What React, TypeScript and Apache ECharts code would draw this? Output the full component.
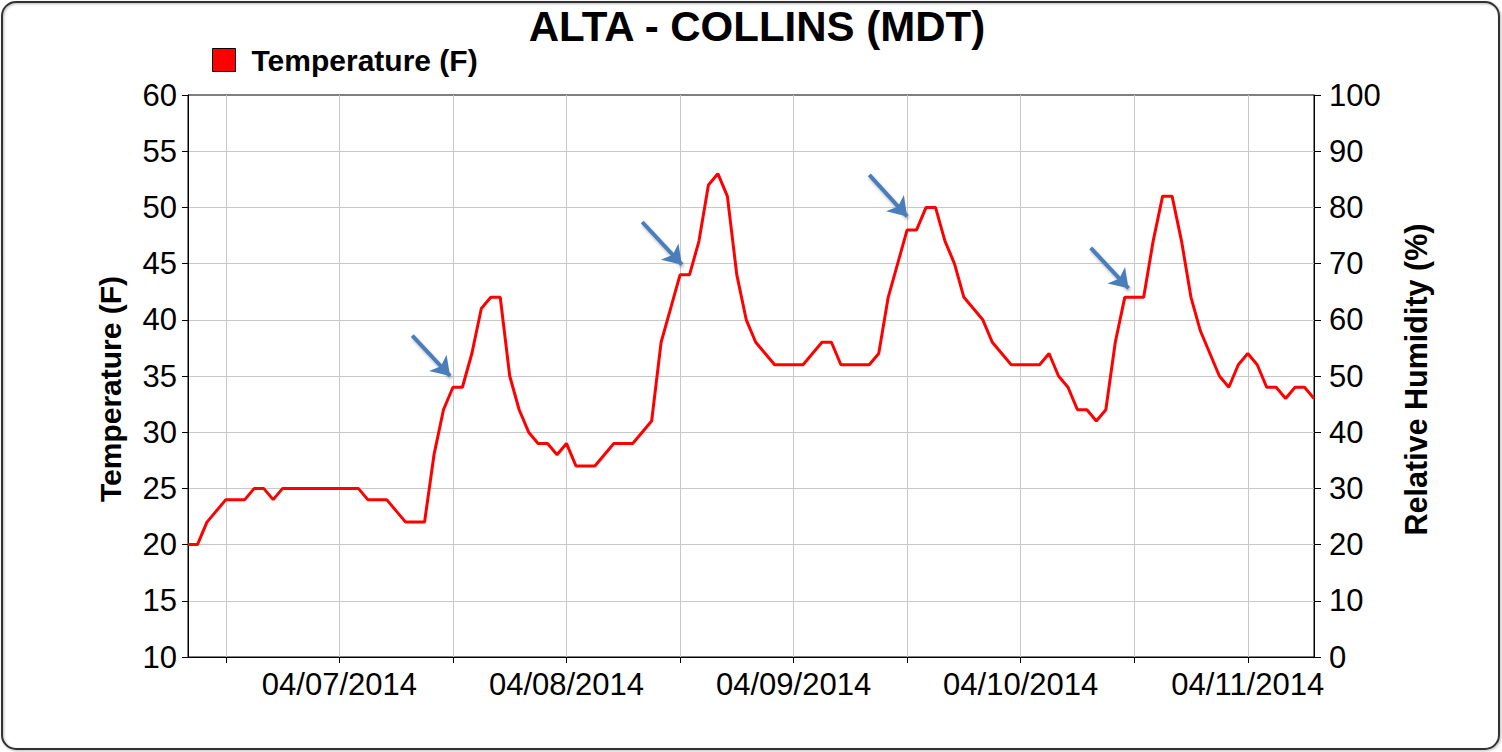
import React, { useEffect, useRef } from 'react';
import * as echarts from 'echarts';

const FONT = '"Liberation Sans", Arial, Helvetica, sans-serif';

const TITLE = 'ALTA - COLLINS (MDT)';
const SERIES_NAME = 'Temperature (F)';
const LEFT_AXIS_NAME = 'Temperature (F)';
const RIGHT_AXIS_NAME = 'Relative Humidity (%)';

// Hourly temperatures (F), first reading 04/06/2014 08:00 MDT
const temp0406 = [20, 20, 22, 23, 24, 24, 24, 25, 25, 24, 25, 25, 25, 25, 25, 25]; // 08:00-23:00
const temp0407 = [25, 25, 25, 24, 24, 24, 23, 22, 22, 22, 28, 32, 34, 34, 37, 41, 42, 42, 35, 32, 30, 29, 29, 28];
const temp0408 = [29, 27, 27, 27, 28, 29, 29, 29, 30, 31, 38, 41, 44, 44, 47, 52, 53, 51, 44, 40, 38, 37, 36, 36];
const temp0409 = [36, 36, 37, 38, 38, 36, 36, 36, 36, 37, 42, 45, 48, 48, 50, 50, 47, 45, 42, 41, 40, 38, 37, 36];
const temp0410 = [36, 36, 36, 37, 35, 34, 32, 32, 31, 32, 38, 42, 42, 42, 47, 51, 51, 47, 42, 39, 37, 35, 34, 36];
const temp0411 = [37, 36, 34, 34, 33, 34, 34, 33]; // 00:00-07:00

// Time is measured in hours since 04/06/2014 00:00
const BASE_DAY = 6; // April 6, 2014
const FIRST_READING: [number, number] = [6, 8]; // [day of April, hour]
const LAST_READING: [number, number] = [11, 7];

// vertical grid lines / ticks every 12 h
const gridTimes: [number, number][] = [
  [6, 12], [7, 0], [7, 12], [8, 0], [8, 12], [9, 0], [9, 12], [10, 0], [10, 12], [11, 0],
];
// date labels at midnight
const labelTimes: [number, number][] = [[7, 0], [8, 0], [9, 0], [10, 0], [11, 0]];
const dateLabels = ['04/07/2014', '04/08/2014', '04/09/2014', '04/10/2014', '04/11/2014'];

// annotation arrows: [day, hour, value] tail -> head
const arrowTails: [number, number, number][] = [
  [7, 7.7, 38.6], [8, 8.0, 48.7], [9, 8.0, 52.9], [10, 7.4, 46.4],
];
const arrowHeads: [number, number, number][] = [
  [7, 11.7, 35.0], [8, 12.2, 44.9], [9, 12.0, 49.2], [10, 11.4, 42.8],
];

const hrs = (day: number, hour: number) => (day - BASE_DAY) * 24 + hour;

export default function App() {
  const ref = useRef<HTMLDivElement>(null);

  useEffect(() => {
    if (!ref.current) return;
    const chart = echarts.init(ref.current, undefined, { renderer: 'svg' });

    const temps = [...temp0406, ...temp0407, ...temp0408, ...temp0409, ...temp0410, ...temp0411];
    const t0 = hrs(FIRST_READING[0], FIRST_READING[1]);
    const data = temps.map((v, i) => [t0 + i, v]);

    const labelValues = labelTimes.map(([d, h]) => hrs(d, h));
    const tickStyle = { color: '#000', width: 1 };

    chart.setOption({
      animation: false,
      backgroundColor: '#fff',
      textStyle: { fontFamily: FONT },
      graphic: [
        {
          type: 'rect',
          shape: { x: 2, y: 2, width: 1497, height: 747, r: 14 },
          style: {
            fill: 'none',
            stroke: '#333',
            lineWidth: 2,
            shadowBlur: 2,
            shadowOffsetX: 1,
            shadowOffsetY: 1,
            shadowColor: 'rgba(0,0,0,0.3)',
          },
          silent: true,
          z: -10,
        },
        {
          type: 'text',
          x: 757,
          y: 26,
          style: {
            text: TITLE,
            textAlign: 'center',
            textVerticalAlign: 'middle',
            font: `bold 42px ${FONT}`,
            fill: '#000',
          },
          silent: true,
        },
      ],
      legend: {
        left: 212,
        top: 45,
        padding: 0,
        icon: 'rect',
        itemWidth: 23,
        itemHeight: 23,
        itemStyle: { color: '#ff0000', borderColor: '#000', borderWidth: 1 },
        textStyle: {
          fontSize: 30,
          lineHeight: 24,
          fontWeight: 'bold',
          color: '#000',
          fontFamily: FONT,
          padding: [0, 0, 0, 11],
        },
        data: [SERIES_NAME],
      },
      grid: {
        left: 188,
        right: 188,
        top: 95,
        bottom: 95,
        show: true,
        borderColor: '#000',
        borderWidth: 1,
        backgroundColor: 'transparent',
      },
      xAxis: {
        type: 'value',
        min: hrs(FIRST_READING[0], FIRST_READING[1]),
        max: hrs(LAST_READING[0], LAST_READING[1]),
        axisLine: { show: true, onZero: false, lineStyle: tickStyle },
        axisTick: {
          show: true,
          customValues: gridTimes.map(([d, h]) => hrs(d, h)),
          length: 6,
          lineStyle: tickStyle,
        },
        axisLabel: {
          customValues: labelValues,
          formatter: (v: number) => {
            const i = labelValues.indexOf(v);
            return i >= 0 ? dateLabels[i] : '';
          },
          fontSize: 31,
          color: '#000',
          margin: 12,
          fontFamily: FONT,
        },
        splitLine: { show: true, lineStyle: { color: '#c8c8c8', width: 1 } },
      },
      yAxis: [
        {
          type: 'value',
          position: 'left',
          min: 10,
          max: 60,
          interval: 5,
          name: LEFT_AXIS_NAME,
          nameLocation: 'middle',
          nameGap: 63,
          nameRotate: 90,
          nameTextStyle: {
            fontSize: 30,
            fontWeight: 'bold',
            color: '#000',
            fontFamily: FONT,
            padding: [0, 26, 0, 0],
          },
          axisLine: { show: true, lineStyle: tickStyle },
          axisTick: { show: true, length: 6, lineStyle: tickStyle },
          axisLabel: { fontSize: 31, color: '#000', margin: 11, fontFamily: FONT },
          splitLine: {
            show: true,
            showMinLine: false,
            showMaxLine: false,
            lineStyle: { color: '#c8c8c8', width: 1 },
          },
        },
        {
          type: 'value',
          position: 'right',
          min: 0,
          max: 100,
          interval: 10,
          name: RIGHT_AXIS_NAME,
          nameLocation: 'middle',
          nameGap: 86,
          nameRotate: 90,
          nameTextStyle: {
            fontSize: 30.5,
            fontWeight: 'bold',
            color: '#000',
            fontFamily: FONT,
            padding: [0, 7, 0, 0],
          },
          axisLine: { show: true, lineStyle: tickStyle },
          axisTick: { show: true, length: 7, lineStyle: tickStyle },
          axisLabel: { fontSize: 31, color: '#000', margin: 15, fontFamily: FONT },
          splitLine: { show: false },
        },
      ],
      series: [
        {
          name: SERIES_NAME,
          type: 'line',
          yAxisIndex: 0,
          data,
          showSymbol: false,
          symbol: 'none',
          lineStyle: { color: '#ff0000', width: 3 },
          itemStyle: { color: '#ff0000' },
          z: 3,
          markLine: {
            silent: true,
            symbol: ['none', 'arrow'],
            symbolSize: 18,
            label: { show: false },
            emphasis: { disabled: true },
            lineStyle: {
              color: '#4A7EBB',
              width: 4,
              type: 'solid',
              shadowBlur: 3,
              shadowColor: 'rgba(0,0,0,0.3)',
              shadowOffsetX: 1,
              shadowOffsetY: 2,
            },
            data: arrowTails.map((t, i) => [
              { coord: [hrs(t[0], t[1]), t[2]] },
              { coord: [hrs(arrowHeads[i][0], arrowHeads[i][1]), arrowHeads[i][2]] },
            ]),
          },
        },
      ],
    });

    return () => chart.dispose();
  }, []);

  return (
    <div
      ref={ref}
      style={{ position: 'fixed', left: 0, top: 0, width: 1502, height: 752, background: '#fff' }}
    />
  );
}
